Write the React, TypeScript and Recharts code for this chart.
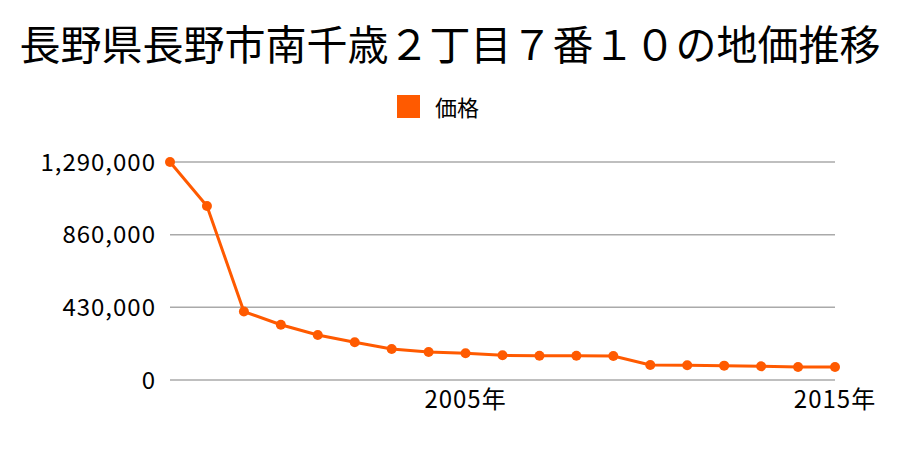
import { LineChart, Line, XAxis, YAxis, CartesianGrid } from "recharts";

const years = [
  1997, 1998, 1999, 2000, 2001, 2002, 2003, 2004, 2005, 2006, 2007, 2008, 2009,
  2010, 2011, 2012, 2013, 2014, 2015,
];
const prices = [
  1290000, 1030000, 405000, 327000, 266000, 223000, 183000, 166000, 158000,
  146000, 144000, 144000, 142000, 89000, 87000, 85000, 81000, 77000, 77000,
];
const yTicks = [0, 430000, 860000, 1290000];
const xTicks = [2005, 2015];
const seriesName = "価格";

const data = years.map((year, i) => ({ year, price: prices[i] }));

const FONT = '"Noto Sans CJK JP", "Noto Sans", sans-serif';
const ORANGE = "#ff5a00";

export default function App() {
  return (
    <div
      style={{
        position: "absolute",
        left: 0,
        top: 0,
        width: 900,
        height: 450,
        background: "#fff",
        fontFamily: FONT,
      }}
    >
      <div
        style={{
          position: "absolute",
          top: 16,
          left: 0,
          width: 900,
          textAlign: "center",
          fontSize: 41,
          lineHeight: "52px",
          color: "#000",
          whiteSpace: "nowrap",
        }}
      >
        長野県長野市南千歳２丁目７番１０の地価推移
      </div>
      {/* legend */}
      <div
        style={{
          position: "absolute",
          top: 94,
          left: 397,
          display: "flex",
          alignItems: "center",
          fontSize: 22,
          lineHeight: "24px",
          color: "#000",
        }}
      >
        <span
          style={{
            display: "inline-block",
            width: 23,
            height: 23,
            background: ORANGE,
            marginRight: 15,
          }}
        />
        <span>{seriesName}</span>
      </div>
      <LineChart
        width={900}
        height={450}
        data={data}
        margin={{ top: 162, right: 65, bottom: 40, left: 0 }}
      >
        <CartesianGrid vertical={false} stroke="#aaaaaa" strokeWidth={1.5} />
        <XAxis
          dataKey="year"
          type="number"
          domain={[1997, 2015]}
          ticks={xTicks}
          tickFormatter={(v) => `${v}年`}
          tickLine={false}
          axisLine={false}
          height={30}
          tickMargin={5}
          tick={{ fontSize: 24, fill: "#000", fontFamily: FONT, letterSpacing: 1 }}
        />
        <YAxis
          domain={[0, 1290000]}
          ticks={yTicks}
          tickFormatter={(v) => v.toLocaleString("en-US")}
          tickLine={false}
          axisLine={false}
          width={170}
          tickMargin={8}
          tick={{ fontSize: 24, fill: "#000", fontFamily: FONT, letterSpacing: 1 }}
        />
        <Line
          dataKey="price"
          name={seriesName}
          stroke={ORANGE}
          strokeWidth={3}
          dot={{ r: 5, fill: ORANGE, stroke: ORANGE, strokeWidth: 0 }}
          isAnimationActive={false}
        />
      </LineChart>
    </div>
  );
}
